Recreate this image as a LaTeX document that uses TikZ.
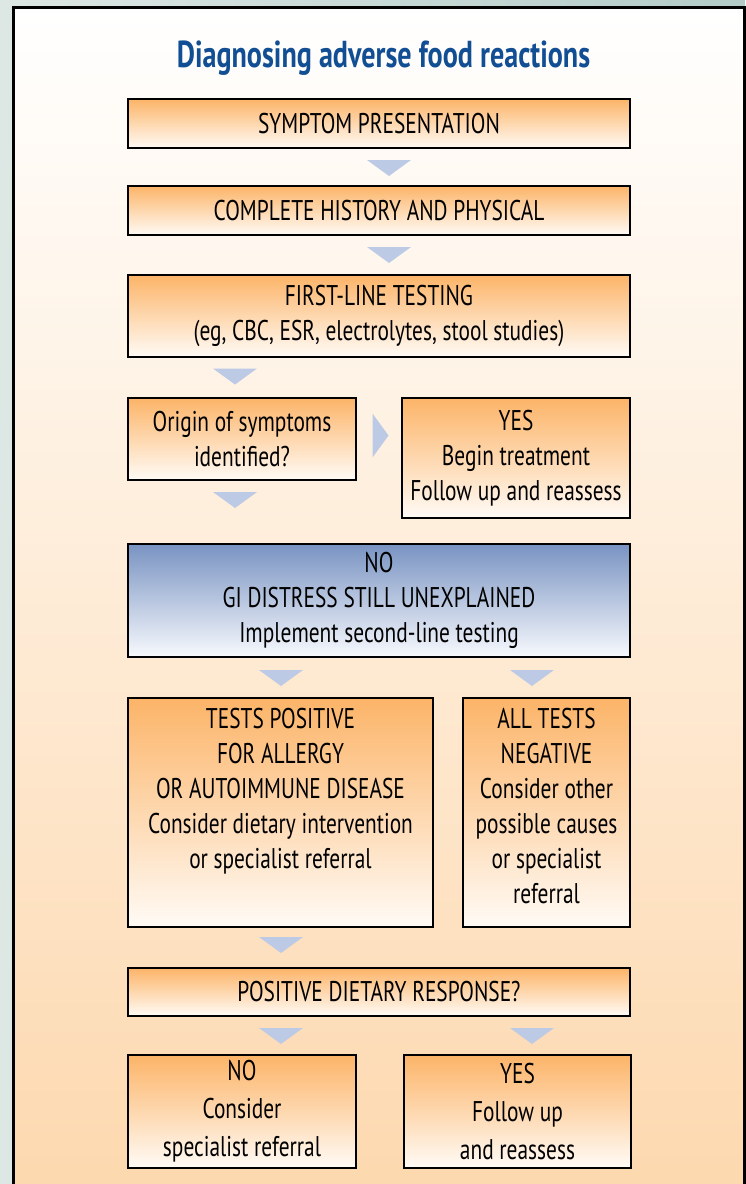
\documentclass[tikz,border=0pt]{standalone}
\usepackage{fontspec}
\setmainfont{PT Sans}[FakeStretch=0.75]
\definecolor{bgleft}{HTML}{DDE7E4}
\definecolor{bgright}{HTML}{B3CCC8}
\definecolor{panelmid}{HTML}{FEEBD7}
\definecolor{panelbot}{HTML}{FDD8AE}
\definecolor{boxtop}{HTML}{FCB468}
\definecolor{boxmid}{HTML}{FDD0A0}
\definecolor{boxbot}{HTML}{FFFBF6}
\definecolor{bluetop}{HTML}{7993C2}
\definecolor{bluemid}{HTML}{A9BBDB}
\definecolor{bluebot}{HTML}{F7F9FD}
\definecolor{tricol}{HTML}{BCCAE6}
\definecolor{titleblue}{HTML}{114E93}
\tikzset{
  box/.style={draw=black, line width=2.2pt, top color=boxtop, middle color=boxmid,
    bottom color=boxbot, font=\fontsize{28.5}{35}\selectfont, align=center, inner sep=0pt},
  wideline/.style={font=\fontsize{28.5}{38}\selectfont},
  bluebox/.style={box, top color=bluetop, middle color=bluemid, bottom color=bluebot},
  downtri/.pic={\fill[tricol] (-22,-8) -- (22,-8) -- (0,8) -- cycle;},
  righttri/.pic={\fill[tricol] (-8,-22) -- (8,0) -- (-8,22) -- cycle;}
}
\begin{document}
\begin{tikzpicture}[x=1pt,y=-1pt]
\useasboundingbox (0,0) rectangle (745,1184);
% outer background
\shade[left color=bgleft, right color=bgright] (0,0) rectangle (745,1184);
% panel
\shade[top color=white, middle color=panelmid, bottom color=panelbot] (13.5,7) rectangle (744,1200);
\draw[black, line width=3pt] (13.5,1200) -- (13.5,7) -- (744,7) -- (744,1200);
% title
\node[anchor=base, text=titleblue, font=\fontsize{37.5}{42}\selectfont\bfseries] (title) at (383.5,67) {Diagnosing adverse food reactions};
% boxes
\node[box, minimum width=502pt, minimum height=49pt] (b1) at (379,123.5) {SYMPTOM PRESENTATION};
\node[box, minimum width=502pt, minimum height=49pt] (b2) at (379,210.5) {COMPLETE HISTORY AND PHYSICAL};
\node[box, minimum width=502pt, minimum height=82pt] (b3) at (379,316) {FIRST-LINE TESTING\\(eg, CBC, ESR, electrolytes, stool studies)};
\node[box, minimum width=228pt, minimum height=82pt] (q) at (242,439) {Origin of symptoms\\identified?};
\node[box, minimum width=228pt, minimum height=120pt] (yes1) at (516,458) {YES\\Begin treatment\\Follow up and reassess};
\node[bluebox, minimum width=502pt, minimum height=113pt] (no1) at (379,600.5) {NO\\GI DISTRESS STILL UNEXPLAINED\\Implement second-line testing};
\node[box, minimum width=305pt, minimum height=229pt] (pos) at (280.5,812.5) {\parbox[c][208pt][t]{300pt}{\centering TESTS POSITIVE\\FOR ALLERGY\\OR AUTOIMMUNE DISEASE\\Consider dietary intervention\\or specialist referral}};
\node[box, minimum width=167pt, minimum height=229pt] (neg) at (546.5,812.5) {\parbox[c][208pt][t]{160pt}{\centering ALL TESTS\\NEGATIVE\\Consider other\\possible causes\\or specialist\\referral}};
\node[box, minimum width=502pt, minimum height=48pt] (diet) at (379,992) {POSITIVE DIETARY RESPONSE?};
\node[box, wideline, minimum width=228pt, minimum height=113pt] (no2) at (242,1111.5) {NO\\Consider\\specialist referral};
\node[box, wideline, minimum width=227pt, minimum height=113pt] (yes2) at (517.5,1111.5) {YES\\Follow up\\and reassess};
% arrow markers
\pic at (389,168) {downtri};
\pic at (389,255) {downtri};
\pic at (235,376.5) {downtri};
\pic at (380.5,435.5) {righttri};
\pic at (235,500) {downtri};
\pic at (281,678) {downtri};
\pic at (532,678) {downtri};
\pic at (281,945) {downtri};
\pic at (281,1036) {downtri};
\pic at (532,1036) {downtri};
\end{tikzpicture}
\end{document}
